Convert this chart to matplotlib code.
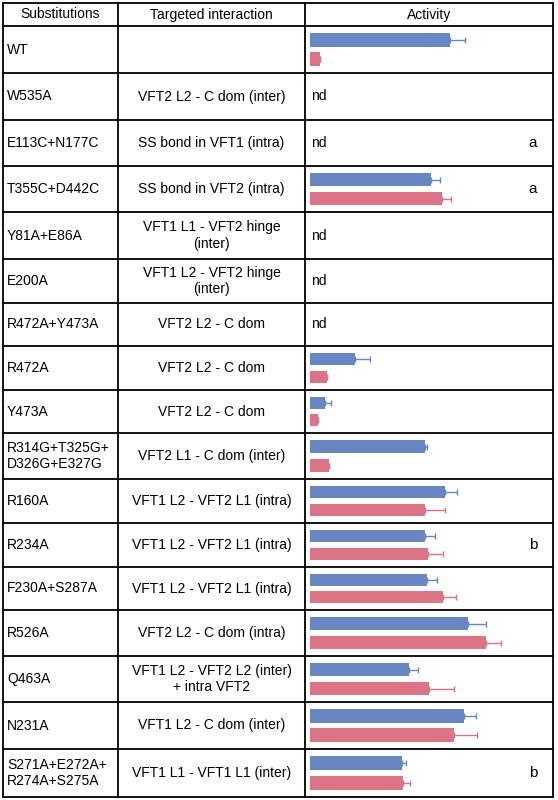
import matplotlib.pyplot as plt

plt.rcParams['font.family'] = ['Liberation Sans', 'DejaVu Sans']

subs = ["Substitutions", "WT", "W535A", "E113C+N177C", "T355C+D442C", "Y81A+E86A", "E200A",
        "R472A+Y473A", "R472A", "Y473A", "R314G+T325G+\nD326G+E327G", "R160A", "R234A",
        "F230A+S287A", "R526A", "Q463A", "N231A", "S271A+E272A+\nR274A+S275A"]
targets = ["Targeted interaction", "", "VFT2 L2 - C dom (inter)", "SS bond in VFT1 (intra)",
           "SS bond in VFT2 (intra)", "VFT1 L1 - VFT2 hinge\n(inter)", "VFT1 L2 - VFT2 hinge\n(inter)",
           "VFT2 L2 - C dom", "VFT2 L2 - C dom", "VFT2 L2 - C dom", "VFT2 L1 - C dom (inter)",
           "VFT1 L2 - VFT2 L1 (intra)", "VFT1 L2 - VFT2 L1 (intra)", "VFT1 L2 - VFT2 L1 (intra)",
           "VFT2 L2 - C dom (intra)", "VFT1 L2 - VFT2 L2 (inter)\n+ intra VFT2",
           "VFT1 L2 - C dom (inter)", "VFT1 L1 - VFT1 L1 (inter)"]
notes = ["", "", "", "a", "a", "", "", "", "", "", "", "", "b", "", "", "", "", "b"]
# None = not determined
blue = [None, 140, None, None, 121, None, None, None, 45, 15, 115, 135, 115, 117, 158, 99, 154, 92]
blue_err = [0, 15, 0, 0, 9, 0, 0, 0, 15, 6, 2, 12, 10, 10, 18, 9, 12, 4]
red = [None, 10, None, None, 132, None, None, None, 17, 8, 19, 115, 118, 133, 176, 119, 144, 93]
red_err = [0, 0, 0, 0, 9, 0, 0, 0, 0, 0, 0, 20, 15, 13, 15, 25, 23, 7]

W, H = 558, 800
rows = [3, 26, 73, 120, 166, 212, 259, 303, 346, 390, 433, 479, 523, 567, 610, 656, 702, 749, 797]
cols = [3, 118, 305, 553]

fig = plt.figure(figsize=(W / 100, H / 100), dpi=100)
bg = fig.add_axes([0, 0, 1, 1])
bg.set_xlim(0, W)
bg.set_ylim(H, 0)
bg.axis("off")
for y in rows:
    bg.plot([cols[0], cols[-1]], [y, y], color="black", lw=1.3)
for x in cols:
    bg.plot([x, x], [rows[0], rows[-1]], color="black", lw=1.3)

blue_c = "#6a86c2"
red_c = "#dc7488"
for i in range(len(subs)):
    y0, y1 = rows[i], rows[i + 1]
    ym = (y0 + y1) / 2
    fs = 10
    if i == 0:
        bg.text((cols[0] + cols[1]) / 2, ym, subs[i], ha="center", va="center", fontsize=fs)
        bg.text((cols[1] + cols[2]) / 2, ym, targets[i], ha="center", va="center", fontsize=fs)
        bg.text((cols[2] + cols[3]) / 2, ym, "Activity", ha="center", va="center", fontsize=fs)
        continue
    bg.text(cols[0] + 4, ym, subs[i], ha="left", va="center", fontsize=fs, linespacing=1.2)
    bg.text((cols[1] + cols[2]) / 2, ym, targets[i], ha="center", va="center", fontsize=fs,
            linespacing=1.2)
    if notes[i]:
        bg.text(533, ym, notes[i], ha="center", va="center", fontsize=11)
    if blue[i] is None:
        bg.text(cols[2] + 6, ym, "nd", ha="left", va="center", fontsize=fs)
        continue
    ax = fig.add_axes([310 / W, 1 - (y1 - 4) / H, 230 / W, (y1 - y0 - 8) / H])
    ax.barh([1], [blue[i]], xerr=[[0], [blue_err[i]]], height=0.7, color=blue_c,
            error_kw=dict(ecolor=blue_c, lw=1, capsize=2))
    ax.barh([0], [red[i]], xerr=[[0], [red_err[i]]], height=0.7, color=red_c,
            error_kw=dict(ecolor=red_c, lw=1, capsize=2))
    ax.set_xlim(0, 230)
    ax.set_ylim(-0.5, 1.5)
    ax.axis("off")

fig.savefig("out.png", dpi=100)
